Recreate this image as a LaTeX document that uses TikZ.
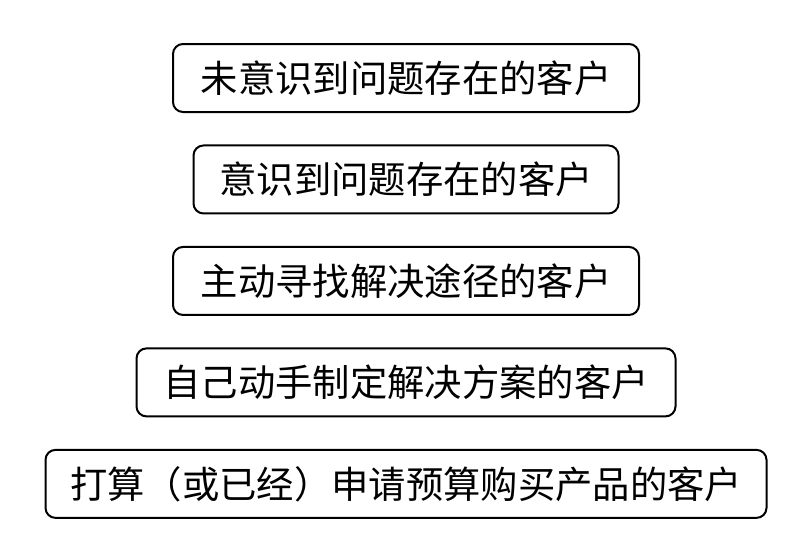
\documentclass[tikz,border=0pt]{standalone}
\usepackage{fontspec}
\newfontfamily\cjk{Noto Sans CJK SC}
\usetikzlibrary{positioning}

\tikzset{
    stage/.style={rectangle, rounded corners=7.5pt, draw=black, line width=1.5pt,
        minimum height=51pt, inner sep=0pt, text centered, font=\cjk\fontsize{28}{30}\selectfont},
}

\begin{document}
\begin{tikzpicture}[x=0.75pt, y=-0.75pt, node distance=23.6pt]
    \useasboundingbox (0,0) rectangle (789,551);
    \node [stage, minimum width=349.5pt] (unaware) at (406,78) {未意识到问题存在的客户};
    \node [stage, minimum width=318.75pt, below=of unaware] (aware) {意识到问题存在的客户};
    \node [stage, minimum width=349.5pt, below=of aware] (seek) {主动寻找解决途径的客户};
    \node [stage, minimum width=404.25pt, below=of seek] (plan) {自己动手制定解决方案的客户};
    \node [stage, minimum width=540.75pt, below=of plan] (budget) {打算（或已经）申请预算购买产品的客户};
\end{tikzpicture}
\end{document}
